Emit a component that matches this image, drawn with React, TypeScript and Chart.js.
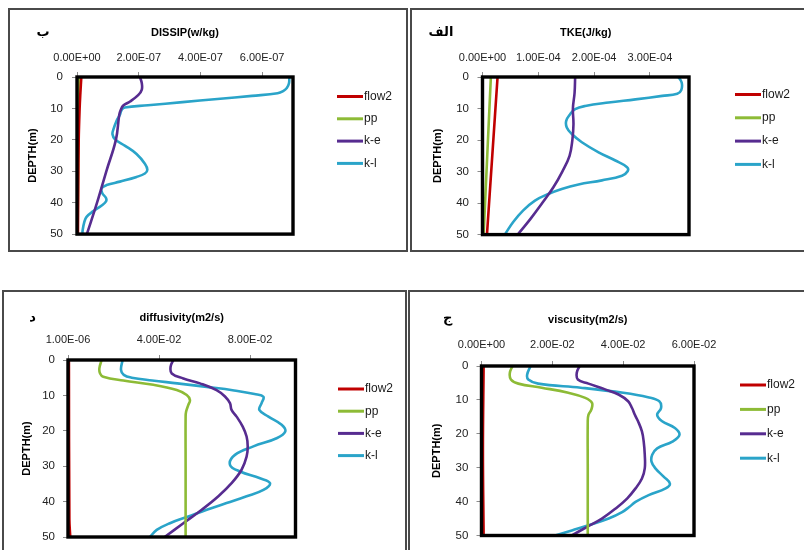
import React, { useEffect, useRef } from 'react';
import { Chart, registerables } from 'chart.js';

Chart.register(...registerables);
Chart.defaults.font.family = "'Liberation Sans', Arial, sans-serif";
Chart.defaults.color = '#222';

// ---------- shared ----------
const seriesNames = ['flow2', 'pp', 'k-e', 'k-l'];
const seriesColors = ['#C00000', '#8DBB36', '#572C90', '#2AA4C9'];
const depthTicks = [0, 10, 20, 30, 40, 50];

// ---------- DISSIP (w/kg) ----------
const dissipTicks = [0, 2e-7, 4e-7, 6e-7];
const dissipFlow2Depth = [0, 5, 10, 20, 35, 50];
const dissipFlow2 = [1.4e-8, 1.1e-8, 0.85e-8, 0.55e-8, 0.4e-8, 0.3e-8];
const dissipPpDepth = [0, 25, 50];
const dissipPp = [0.6e-8, 0.4e-8, 0.2e-8];
const dissipKeDepth = [0, 2, 4, 5.7, 7.8, 9.1, 10.4, 12, 20, 30, 40, 50];
const dissipKe = [2.04e-7, 2.1e-7, 2.1e-7, 1.99e-7, 1.72e-7, 1.5e-7, 1.42e-7, 1.37e-7, 1.26e-7, 0.95e-7, 0.65e-7, 0.32e-7];
const dissipKlDepth = [0, 2, 3.5, 4.5, 5.2, 6, 7, 8, 9, 9.7, 10.4, 12, 14, 16.7, 18.2, 19.8, 21.9, 24.5, 27.6, 29.5, 30.7, 31.8, 33.3, 34.4, 35.4, 37, 38.5, 39.6, 40.9, 42.7, 44.5, 46.4, 49, 50];
const dissipKl = [6.88e-7, 6.87e-7, 6.8e-7, 6.68e-7, 6.5e-7, 5.67e-7, 4.55e-7, 3.42e-7, 2.3e-7, 1.55e-7, 1.45e-7, 1.39e-7, 1.28e-7, 1.18e-7, 1.15e-7, 1.23e-7, 1.56e-7, 1.93e-7, 2.2e-7, 2.28e-7, 2.2e-7, 1.93e-7, 1.39e-7, 0.96e-7, 0.8e-7, 0.82e-7, 0.94e-7, 0.94e-7, 0.8e-7, 0.53e-7, 0.31e-7, 0.23e-7, 0.18e-7, 0.18e-7];

// ---------- TKE (J/kg) ----------
const tkeTicks = [0, 1e-4, 2e-4, 3e-4];
const tkeFlow2Depth = [0, 25, 50];
const tkeFlow2 = [2.7e-5, 1.75e-5, 0.8e-5];
const tkePpDepth = [0, 25, 50];
const tkePp = [1.5e-5, 0.85e-5, 0.2e-5];
const tkeKeDepth = [0, 5, 10, 15, 20, 25, 30, 35, 40, 45, 50];
const tkeKe = [1.66e-4, 1.65e-4, 1.62e-4, 1.63e-4, 1.61e-4, 1.56e-4, 1.43e-4, 1.27e-4, 1.07e-4, 0.86e-4, 0.63e-4];
const tkeKlDepth = [0, 1.8, 4.2, 5.3, 6, 7.1, 8.1, 9.2, 10.2, 11.8, 13.9, 16, 18.1, 20.7, 23.9, 26.5, 28.6, 29.9, 31.3, 32.8, 34.1, 35.5, 37.1, 39.2, 42.3, 46, 50];
const tkeKl = [3.51e-4, 3.57e-4, 3.56e-4, 3.49e-4, 3.22e-4, 2.74e-4, 2.26e-4, 1.84e-4, 1.66e-4, 1.57e-4, 1.5e-4, 1.51e-4, 1.6e-4, 1.78e-4, 2.08e-4, 2.38e-4, 2.59e-4, 2.6e-4, 2.5e-4, 2.14e-4, 1.72e-4, 1.42e-4, 1.18e-4, 0.94e-4, 0.73e-4, 0.55e-4, 0.4e-4];

// ---------- diffusivity (m2/s) ----------
const diffTicks = [0.000001, 0.040001, 0.080001];
const diffFlow2Depth = [0, 45, 50];
const diffFlow2 = [0.0004, 0.0006, 0.001];
const diffPpDepth = [0, 2.3, 3.8, 4.7, 5.8, 7.0, 8.5, 9.9, 11.3, 12.7, 14.6, 16, 30, 50];
const diffPp = [0.0148, 0.0138, 0.0141, 0.0155, 0.0243, 0.0375, 0.0478, 0.0522, 0.0536, 0.0529, 0.0519, 0.0517, 0.0517, 0.0517];
const diffKeDepth = [0, 1.9, 3.8, 5.2, 6.6, 8.5, 10.3, 12.2, 14.1, 16, 18.8, 21.6, 24.4, 27.3, 31, 34.8, 38.5, 42.3, 46.1, 50];
const diffKe = [0.0463, 0.0451, 0.0456, 0.0507, 0.058, 0.0653, 0.069, 0.0712, 0.0719, 0.0741, 0.0768, 0.0785, 0.079, 0.0785, 0.0763, 0.0719, 0.0661, 0.0588, 0.0507, 0.0425];
const diffKlDepth = [0, 2.8, 4.2, 5.0, 5.8, 6.6, 7.6, 8.6, 9.6, 10.4, 12.2, 14.1, 16, 18.3, 20.2, 22.1, 24.4, 26.8, 29.6, 31.5, 33.4, 34.8, 36.7, 38.5, 40.4, 42.3, 44.2, 46.1, 48, 50];
const diffKl = [0.024, 0.0233, 0.0245, 0.028, 0.037, 0.048, 0.061, 0.073, 0.082, 0.0859, 0.0851, 0.0841, 0.0881, 0.0939, 0.0955, 0.0917, 0.0815, 0.0734, 0.0712, 0.0756, 0.0844, 0.0888, 0.0859, 0.0785, 0.0697, 0.061, 0.0529, 0.0448, 0.039, 0.036];

// ---------- viscosity (m2/s) ----------
const viscTicks = [0, 0.02, 0.04, 0.06];
const viscFlow2Depth = [0, 25, 50];
const viscFlow2 = [0.0006, 0.0004, 0.0006];
const viscPpDepth = [0, 2, 4, 5.2, 6.4, 7.9, 9.4, 10.9, 12.9, 14.4, 16.3, 30, 50];
const viscPp = [0.00875, 0.008, 0.0083, 0.0104, 0.017, 0.0245, 0.0293, 0.0312, 0.031, 0.0302, 0.03, 0.03, 0.03];
const viscKeDepth = [0, 2, 4, 5.2, 6.9, 8.4, 10.4, 12.4, 14.4, 16.3, 19.3, 22.3, 26.2, 30.2, 33.2, 36.1, 39.1, 42.1, 45, 47.5, 50];
const viscKe = [0.0277, 0.0269, 0.0272, 0.0302, 0.0349, 0.0387, 0.0414, 0.0425, 0.0433, 0.0442, 0.0453, 0.0458, 0.0461, 0.0461, 0.0453, 0.0435, 0.0411, 0.0378, 0.034, 0.0297, 0.0255];
const viscKlDepth = [0, 2.5, 4, 5.2, 6.4, 7.9, 9.2, 10.4, 12.4, 14.4, 16.3, 18.3, 20.3, 22.3, 24.3, 26.2, 28.2, 30.2, 32.7, 34.7, 36.1, 38.1, 40.1, 41.6, 43.1, 45, 47, 48.5, 50];
const viscKl = [0.01385, 0.0129, 0.0132, 0.016, 0.028, 0.04, 0.047, 0.0502, 0.0507, 0.0496, 0.051, 0.0546, 0.0559, 0.0539, 0.0496, 0.0482, 0.048, 0.0491, 0.0515, 0.0532, 0.052, 0.0472, 0.0435, 0.0417, 0.0397, 0.0359, 0.0302, 0.0255, 0.0208];

type Series = { depth: number[]; values: number[] };
type Layout = {
  left: number; top: number; width: number; height: number;
  wy: number; yTitlePad: number; yPad: number;
  hx: number; xPad: number; titlePad: number;
  pr: number; pb: number;
  letterX: number; letterY: number;
  legendX: number; legendY: number; legendGap: number;
};
type PanelCfg = {
  title: string; letter: string; xMin: number; xMax: number; xTicks: number[];
  series: Series[]; layout: Layout;
};

const panels: PanelCfg[] = [
  {
    title: 'DISSIP(w/kg)', letter: 'ب', xMin: 0, xMax: 7e-7, xTicks: dissipTicks,
    series: [
      { depth: dissipFlow2Depth, values: dissipFlow2 },
      { depth: dissipPpDepth, values: dissipPp },
      { depth: dissipKeDepth, values: dissipKe },
      { depth: dissipKlDepth, values: dissipKl },
    ],
    layout: { left: 8, top: 8, width: 400, height: 244, wy: 67, yTitlePad: 16.4, yPad: 9, hx: 37.4, xPad: 7.4, titlePad: 16.4, pr: 113, pb: 13, letterX: 33, letterY: 23, legendX: 327, legendY: 86.5, legendGap: 22.3 },
  },
  {
    title: 'TKE(J/kg)', letter: 'الف', xMin: 0, xMax: 3.7e-4, xTicks: tkeTicks,
    series: [
      { depth: tkeFlow2Depth, values: tkeFlow2 },
      { depth: tkePpDepth, values: tkePp },
      { depth: tkeKeDepth, values: tkeKe },
      { depth: tkeKlDepth, values: tkeKl },
    ],
    layout: { left: 410, top: 8, width: 400, height: 244, wy: 70.5, yTitlePad: 19.7, yPad: 8.5, hx: 37.4, xPad: 7.4, titlePad: 16.4, pr: 119, pb: 13, letterX: 29, letterY: 23, legendX: 323, legendY: 84.5, legendGap: 23.3 },
  },
  {
    title: 'diffusivity(m2/s)', letter: 'د', xMin: 0.000001, xMax: 0.1, xTicks: diffTicks,
    series: [
      { depth: diffFlow2Depth, values: diffFlow2 },
      { depth: diffPpDepth, values: diffPp },
      { depth: diffKeDepth, values: diffKe },
      { depth: diffKlDepth, values: diffKl },
    ],
    layout: { left: 2, top: 290, width: 405, height: 270, wy: 64, yTitlePad: 16.1, yPad: 8, hx: 35.1, xPad: 8.4, titlePad: 19.7, pr: 109.5, pb: 21, letterX: 28.5, letterY: 26, legendX: 334, legendY: 97, legendGap: 22.2 },
  },
  {
    title: 'viscusity(m2/s)', letter: 'ج', xMin: 0, xMax: 0.06, xTicks: viscTicks,
    series: [
      { depth: viscFlow2Depth, values: viscFlow2 },
      { depth: viscPpDepth, values: viscPp },
      { depth: viscKeDepth, values: viscKe },
      { depth: viscKlDepth, values: viscKl },
    ],
    layout: { left: 408, top: 290, width: 400, height: 270, wy: 71.5, yTitlePad: 20.1, yPad: 8.2, hx: 39.4, xPad: 9.4, titlePad: 21.4, pr: 112, pb: 22.5, letterX: 37.7, letterY: 26.3, legendX: 330, legendY: 93, legendGap: 24.4 },
  },
];

const BORDER = 2;

function fmtE(v: number): string {
  const [m, e] = v.toExponential(2).split('e');
  const n = parseInt(e, 10);
  return m + 'E' + (n < 0 ? '-' : '+') + String(Math.abs(n)).padStart(2, '0');
}

const decorPlugin = {
  id: 'panelDecor',
  afterDatasetsDraw(chart: any) {
    const { ctx, chartArea: a } = chart;
    ctx.save();
    ctx.lineWidth = 3.4;
    ctx.strokeStyle = '#000';
    ctx.strokeRect(a.left, a.top, a.right - a.left, a.bottom - a.top);
    ctx.restore();
  },
  afterDraw(chart: any, _args: any, opts: any) {
    const ctx = chart.ctx;
    ctx.save();
    ctx.font = "bold 13px 'DejaVu Sans', sans-serif";
    ctx.fillStyle = '#000';
    ctx.textAlign = 'center';
    ctx.textBaseline = 'middle';
    ctx.fillText(opts.letter, opts.letterX, opts.letterY);
    const len = 26;
    chart.data.datasets.forEach((ds: any, i: number) => {
      const y = opts.legendY + i * opts.legendGap;
      ctx.strokeStyle = ds.borderColor;
      ctx.lineWidth = 3;
      ctx.beginPath();
      ctx.moveTo(opts.legendX, y);
      ctx.lineTo(opts.legendX + len, y);
      ctx.stroke();
      ctx.font = "12px 'Liberation Sans', Arial, sans-serif";
      ctx.fillStyle = '#1a1a1a';
      ctx.textAlign = 'left';
      ctx.fillText(ds.label, opts.legendX + len + 1, y);
    });
    ctx.restore();
  },
};

function Panel({ cfg }: { cfg: PanelCfg }) {
  const ref = useRef<HTMLCanvasElement>(null);
  const L = cfg.layout;
  const cw = L.width - 2 * BORDER;
  const ch = L.height - 2 * BORDER;

  useEffect(() => {
    const grid = {
      display: true,
      drawOnChartArea: false,
      drawTicks: true,
      tickLength: 5,
      color: '#8c8c8c',
      lineWidth: 1,
    };
    const chart = new Chart(ref.current as HTMLCanvasElement, {
      type: 'scatter',
      data: {
        datasets: cfg.series.map((s, i) => ({
          label: seriesNames[i],
          data: s.depth.map((d, j) => ({ x: s.values[j], y: d })),
          showLine: true,
          borderColor: seriesColors[i],
          backgroundColor: seriesColors[i],
          borderWidth: 2.6,
          pointRadius: 0,
          pointHoverRadius: 0,
          tension: 0.4,
          fill: false,
        })),
      },
      options: {
        animation: false,
        responsive: false,
        events: [],
        layout: { autoPadding: false, padding: { left: 0, top: 0, right: L.pr, bottom: L.pb } },
        plugins: {
          legend: { display: false },
          tooltip: { enabled: false },
          title: {
            display: true,
            text: cfg.title,
            fullSize: false,
            color: '#000',
            font: { size: 11, weight: 'bold' },
            padding: { top: L.titlePad, bottom: 0 },
          },
          panelDecor: {
            letter: cfg.letter,
            letterX: L.letterX,
            letterY: L.letterY,
            legendX: L.legendX,
            legendY: L.legendY,
            legendGap: L.legendGap,
          },
        } as any,
        scales: {
          x: {
            type: 'linear',
            position: 'top',
            min: cfg.xMin,
            max: cfg.xMax,
            afterBuildTicks: (s: any) => {
              s.ticks = cfg.xTicks.map((v) => ({ value: v }));
            },
            afterFit: (s: any) => {
              s.height = L.hx;
            },
            ticks: {
              callback: (v: any) => fmtE(Number(v)),
              padding: L.xPad,
              color: '#222',
              font: { size: 11 },
              maxRotation: 0,
              autoSkip: false,
            },
            grid,
            border: { display: false },
          },
          y: {
            type: 'linear',
            reverse: true,
            min: 0,
            max: 50,
            afterBuildTicks: (s: any) => {
              s.ticks = depthTicks.map((v) => ({ value: v }));
            },
            afterFit: (s: any) => {
              s.width = L.wy;
            },
            title: {
              display: true,
              text: 'DEPTH(m)',
              color: '#000',
              font: { size: 11, weight: 'bold' },
              padding: { top: L.yTitlePad, bottom: 0 },
            },
            ticks: {
              padding: L.yPad,
              color: '#222',
              font: { size: 11.5 },
              autoSkip: false,
            },
            grid,
            border: { display: false },
          },
        } as any,
      },
      plugins: [decorPlugin],
    });
    return () => chart.destroy();
  }, []);

  return (
    <div
      style={{
        position: 'absolute',
        left: L.left,
        top: L.top,
        width: L.width,
        height: L.height,
        boxSizing: 'border-box',
        border: `${BORDER}px solid #4a4a4a`,
        background: '#fff',
        overflow: 'hidden',
      }}
    >
      <canvas ref={ref} width={cw} height={ch} style={{ display: 'block', width: cw, height: ch }} />
    </div>
  );
}

export default function App() {
  return (
    <div
      style={{
        position: 'fixed',
        left: 0,
        top: 0,
        width: 804,
        height: 550,
        overflow: 'hidden',
        background: '#fff',
      }}
    >
      {panels.map((p, i) => (
        <Panel key={i} cfg={p} />
      ))}
    </div>
  );
}
